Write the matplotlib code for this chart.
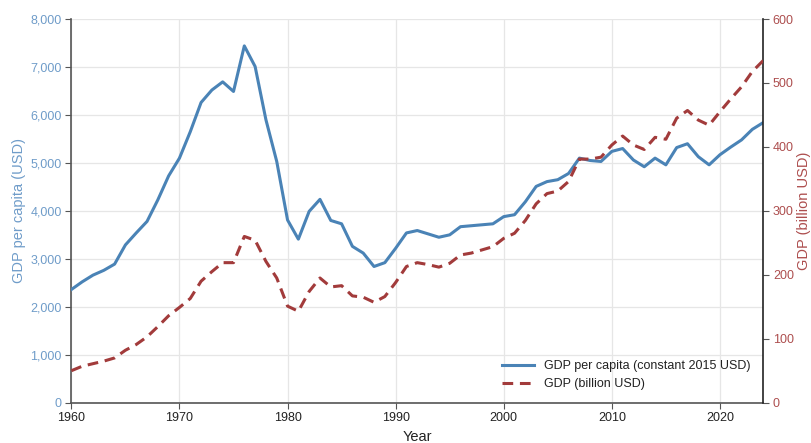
import numpy as np
import matplotlib
matplotlib.use('Agg')
import matplotlib.pyplot as plt
from matplotlib.ticker import FuncFormatter

plt.rcParams['font.family'] = ['Liberation Sans', 'DejaVu Sans']

years = list(range(1960, 2025))

# GDP per capita (constant 2015 USD)
gdp_pc = [2360, 2520, 2660, 2760, 2890, 3290, 3540, 3780, 4230, 4730,
          5100, 5650, 6260, 6520, 6690, 6490, 7440, 7010, 5900, 5030,
          3810, 3410, 3990, 4240, 3800, 3730, 3260, 3120, 2840, 2920,
          3220, 3540, 3590, 3520, 3450, 3500, 3670, 3690, 3710, 3730,
          3880, 3920, 4190, 4510, 4610, 4650, 4780, 5100, 5050, 5030,
          5240, 5300, 5060, 4920, 5100, 4960, 5320, 5400, 5130, 4960,
          5170, 5330, 5480, 5700, 5840]

# GDP (billion USD)
gdp = [50, 57, 61, 65, 70, 82, 91, 103, 119, 136,
       149, 163, 190, 205, 219, 219, 260, 254, 221, 195,
       151, 143, 174, 195, 181, 183, 167, 165, 157, 166,
       188, 213, 219, 216, 212, 218, 231, 234, 239, 244,
       257, 265, 285, 311, 327, 331, 346, 381, 381, 384,
       403, 417, 403, 396, 415, 412, 445, 457, 442, 434,
       455, 475, 494, 518, 535]

blue = '#4a83b6'
red = '#a23b3b'
blue_lbl = '#6f9cc9'
red_lbl = '#ad4e4e'

fig = plt.figure(figsize=(8.11, 4.43), dpi=100)
ax = fig.add_axes([0.088, 0.091, 0.853, 0.866])
ax2 = ax.twinx()

ax.plot(years, gdp_pc, color=blue, lw=2.2, label='GDP per capita (constant 2015 USD)', zorder=3)
ax2.plot(years, gdp, color=red, lw=2.2, ls=(0, (3.5, 2.2)), label='GDP (billion USD)', zorder=3)

ax.set_xlim(1960, 2024)
ax.set_ylim(0, 8000)
ax2.set_ylim(0, 600)
ax.set_xticks([1960, 1970, 1980, 1990, 2000, 2010, 2020])
ax.set_yticks(np.arange(0, 8001, 1000))
ax2.set_yticks(np.arange(0, 601, 100))
ax.yaxis.set_major_formatter(FuncFormatter(lambda v, p: f'{int(v):,}'))

ax.grid(True, color='#e6e6e6', lw=0.9, zorder=0)
ax.set_axisbelow(True)

for a in (ax, ax2):
    a.spines['top'].set_visible(False)
ax.spines['left'].set_color('#555555')
ax.spines['left'].set_linewidth(1.2)
ax.spines['bottom'].set_color('#555555')
ax.spines['bottom'].set_linewidth(1.2)
ax.spines['right'].set_visible(False)
ax2.spines['left'].set_visible(False)
ax2.spines['bottom'].set_visible(False)
ax2.spines['right'].set_color('#222222')
ax2.spines['right'].set_linewidth(1.2)

ax.tick_params(axis='y', colors='#555555', labelcolor=blue_lbl, labelsize=9, length=4, pad=3)
ax.tick_params(axis='x', colors='#555555', labelcolor='#222222', labelsize=9, length=4, pad=3)
ax2.tick_params(axis='y', colors='#555555', labelcolor=red_lbl, labelsize=9, length=4, pad=3)

ax.set_xlabel('Year', fontsize=10.5, color='#222222', labelpad=4)
ax.set_ylabel('GDP per capita (USD)', fontsize=10.5, color=blue_lbl, labelpad=3)
ax2.set_ylabel('GDP (billion USD)', fontsize=10.5, color=red_lbl, labelpad=2)

h1, l1 = ax.get_legend_handles_labels()
h2, l2 = ax2.get_legend_handles_labels()
leg = ax2.legend(h1 + h2, l1 + l2, loc='lower right', frameon=False, fontsize=9,
                 handlelength=2.6, borderaxespad=0.6, labelspacing=0.5)
for t in leg.get_texts():
    t.set_color('#222222')

fig.savefig('out.png', dpi=100)
